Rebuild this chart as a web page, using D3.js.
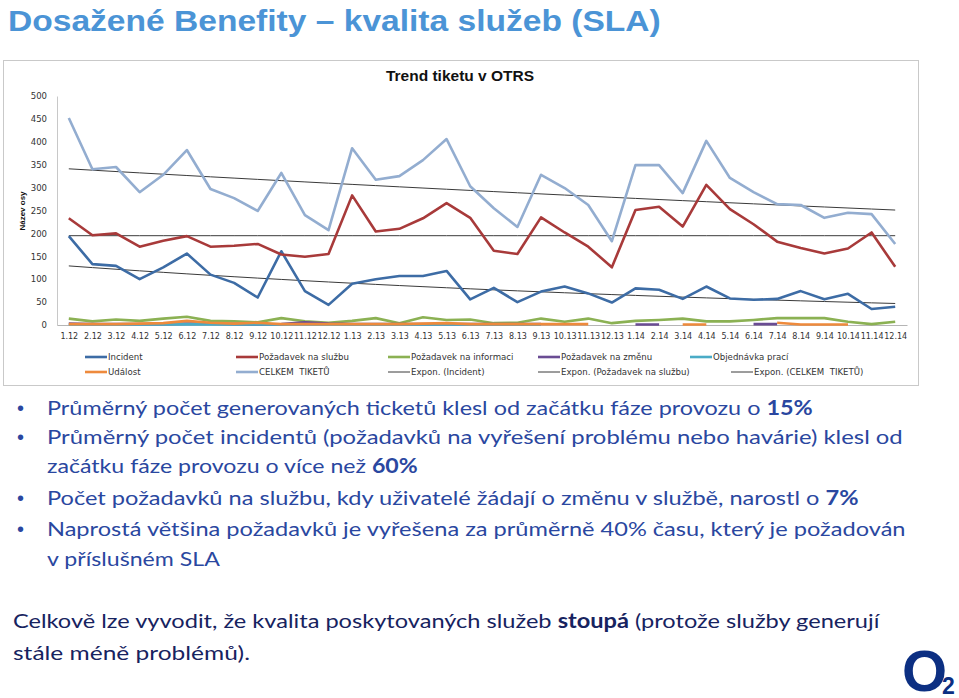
<!DOCTYPE html>
<html>
<head>
<meta charset="utf-8">
<script src="https://cdn.jsdelivr.net/npm/d3@7"></script>
<style>
  body { margin: 0; background: #fff; }
  svg { display: block; }
</style>
</head>
<body>
<svg id="slide" width="959" height="698"></svg>
<script>
// months on the category axis
var months = ["1.12", "2.12", "3.12", "4.12", "5.12", "6.12", "7.12", "8.12", "9.12", "10.12", "11.12", "12.12",
  "1.13", "2.13", "3.13", "4.13", "5.13", "6.13", "7.13", "8.13", "9.13", "10.13", "11.13", "12.13",
  "1.14", "2.14", "3.14", "4.14", "5.14", "6.14", "7.14", "8.14", "9.14", "10.14", "11.14", "12.14"];
var yTicks = [0, 50, 100, 150, 200, 250, 300, 350, 400, 450, 500];

// series
var incident = [194, 133, 129, 100, 126, 156, 110, 92, 60, 161, 74, 44,
  90, 100, 107, 107, 118, 56, 81, 50, 73, 84, 69, 49,
  80, 77, 57, 84, 58, 55, 57, 74, 56, 68, 35, 40];
var sluzba = [233, 196, 200, 171, 184, 194, 171, 173, 177, 154, 149, 155,
  283, 204, 210, 233, 266, 234, 162, 155, 235, 202, 171, 126,
  251, 258, 215, 306, 253, 220, 182, 168, 156, 167, 202, 127];
var informace = [14, 8, 12, 9, 14, 18, 9, 8, 6, 15, 8, 5,
  9, 15, 4, 17, 11, 12, 4, 5, 14, 7, 14, 4,
  9, 11, 14, 8, 8, 11, 15, 15, 15, 7, 2, 7];
var zmena = [3, 2, 2, 2, 2, 3, 3, 2, 1, 2, 6, 3,
  2, 2, 2, 2, 2, 2, 2, 2, 2, null, null, null,
  1, 1, null, null, null, 2, 2, null, null, null, null, null];
var objednavka = [1, 1, 1, 1, 1, 2, 1, 1, 1, 1, 1, 1,
  1, 1, 1, 1, 1, 1, 1, 1, 1, null, null, null,
  null, null, null, null, null, null, null, null, null, null, null, null];
var udalost = [2, 2, 2, 3, 4, 9, 5, 3, 5, 2, 2, 2,
  2, 2, 2, 3, 4, 2, 2, 2, 2, 2, 2, null,
  null, null, 1, 1, null, null, 5, 1, 1, 1, null, null];
var celkem = [452, 340, 345, 290, 328, 382, 297, 277, 249, 332, 240, 207,
  386, 317, 325, 360, 406, 303, 255, 214, 328, 299, 262, 183,
  349, 349, 288, 402, 321, 290, 264, 262, 234, 245, 242, 177];

// exponential trend lines: value at first and last month
var trendIncident = [129, 47];
var trendSluzba = [195, 195];
var trendCelkem = [341, 251];

var svg = d3.select("#slide");

var x = d3.scalePoint().domain(months).range([57, 907]).padding(0.5);
var y = d3.scaleLinear().domain([0, 500]).range([325, 96]);

// slide title
fitText(svg.append("text")
  .attr("font-family", "Liberation Sans, Arial, sans-serif")
  .attr("font-weight", "bold")
  .attr("font-size", 29)
  .attr("fill", "#4b94d6")
  .text("Dosažené Benefity – kvalita služeb (SLA)"), 8, 31, 653);

// chart frame
svg.append("rect")
  .attr("x", 3.5).attr("y", 60.5)
  .attr("width", 915).attr("height", 325)
  .attr("fill", "#fff")
  .attr("stroke", "#c9c9c9");

svg.append("text")
  .attr("x", 460).attr("y", 81)
  .attr("text-anchor", "middle")
  .attr("font-family", "Liberation Sans, Arial, sans-serif")
  .attr("font-weight", "bold")
  .attr("font-size", 15.5)
  .attr("fill", "#111")
  .text("Trend tiketu v OTRS");

svg.append("text")
  .attr("transform", "translate(25,211) rotate(-90)")
  .attr("text-anchor", "middle")
  .attr("font-family", "Liberation Sans, Arial, sans-serif")
  .attr("font-weight", "bold")
  .attr("font-size", 8)
  .attr("fill", "#111")
  .text("Název osy");

// axes
var yAxis = svg.append("g")
  .attr("transform", "translate(57,0)")
  .call(d3.axisLeft(y).tickValues(yTicks).tickSize(0).tickPadding(10));
yAxis.select(".domain").attr("stroke", "#c8c8c8");
yAxis.selectAll("text")
  .attr("font-family", "DejaVu Sans, sans-serif")
  .attr("font-size", 8.5)
  .attr("fill", "#333");

var xAxis = svg.append("g")
  .attr("transform", "translate(0,325)")
  .call(d3.axisBottom(x).tickSize(0).tickPadding(8));
xAxis.select(".domain").attr("stroke", "#b5b5b5");
xAxis.selectAll("text")
  .attr("font-family", "DejaVu Sans, sans-serif")
  .attr("font-size", 8)
  .attr("fill", "#333");

// trend lines
var trends = [trendIncident, trendSluzba, trendCelkem];
var last = months.length - 1;
var trendLine = d3.line()
  .x(function (d) { return x(d.m); })
  .y(function (d) { return y(d.v); });
trends.forEach(function (t) {
  var pts = months.map(function (m, i) {
    return { m: m, v: t[0] * Math.pow(t[1] / t[0], i / last) };
  });
  svg.append("path")
    .attr("d", trendLine(pts))
    .attr("fill", "none")
    .attr("stroke", "#3a3a3a")
    .attr("stroke-width", 1);
});

// data series, drawn bottom layer first
var series = [
  { name: "Incident", values: incident, color: "#3d6ca5" },
  { name: "Požadavek na službu", values: sluzba, color: "#a83a3a" },
  { name: "Požadavek na informaci", values: informace, color: "#8bb153" },
  { name: "Požadavek na změnu", values: zmena, color: "#6a4c93" },
  { name: "Objednávka prací", values: objednavka, color: "#4aabc6" },
  { name: "Událost", values: udalost, color: "#ee8a3c" },
  { name: "CELKEM  TIKETŮ", values: celkem, color: "#93add0" }
];

var line = d3.line()
  .defined(function (d) { return d != null; })
  .x(function (d, i) { return x(months[i]); })
  .y(function (d) { return y(d); });

series.forEach(function (s) {
  svg.append("path")
    .attr("d", line(s.values))
    .attr("fill", "none")
    .attr("stroke", s.color)
    .attr("stroke-width", 2.6)
    .attr("stroke-linejoin", "round");
});

// legend (two rows like in Excel)
var legendItems = [
  { label: "Incident", color: series[0].color, w: 2.6, x: 85, y: 357 },
  { label: "Požadavek na službu", color: series[1].color, w: 2.6, x: 236, y: 357 },
  { label: "Požadavek na informaci", color: series[2].color, w: 2.6, x: 388, y: 357 },
  { label: "Požadavek na změnu", color: series[3].color, w: 2.6, x: 538, y: 357 },
  { label: "Objednávka prací", color: series[4].color, w: 2.6, x: 690, y: 357 },
  { label: "Událost", color: series[5].color, w: 2.6, x: 85, y: 372 },
  { label: "CELKEM  TIKETŮ", color: series[6].color, w: 2.6, x: 236, y: 372 },
  { label: "Expon. (Incident)", color: "#3a3a3a", w: 1, x: 388, y: 372 },
  { label: "Expon. (Požadavek na službu)", color: "#3a3a3a", w: 1, x: 538, y: 372 },
  { label: "Expon. (CELKEM  TIKETŮ)", color: "#3a3a3a", w: 1, x: 731, y: 372 }
];
var legend = svg.append("g").selectAll("g")
  .data(legendItems).enter().append("g")
  .attr("transform", function (d) { return "translate(" + d.x + "," + d.y + ")"; });
legend.append("line")
  .attr("x1", 0).attr("x2", 22)
  .attr("stroke", function (d) { return d.color; })
  .attr("stroke-width", function (d) { return d.w; });
legend.append("text")
  .attr("x", 23).attr("dy", "0.35em")
  .attr("font-family", "DejaVu Sans, sans-serif")
  .attr("font-size", 8.6)
  .attr("fill", "#333")
  .style("white-space", "pre")
  .text(function (d) { return d.label; });

// bullet text
var bullets = [
  { parts: [["Průměrný počet generovaných ticketů klesl od začátku fáze provozu o ", 0], ["15%", 1]], y: 415, w: 766, dot: true },
  { parts: [["Průměrný počet incidentů (požadavků na vyřešení problému nebo havárie) klesl od", 0]], y: 444, w: 856, dot: true },
  { parts: [["začátku fáze provozu o více než ", 0], ["60%", 1]], y: 473, w: 371 },
  { parts: [["Počet požadavků na službu, kdy uživatelé žádají o změnu v službě, narostl o ", 0], ["7%", 1]], y: 505, w: 812, dot: true },
  { parts: [["Naprostá většina požadavků je vyřešena za průměrně 40% času, který je požadován", 0]], y: 536, w: 859, dot: true },
  { parts: [["v příslušném SLA", 0]], y: 566, w: 173 }
];
var para = [
  { parts: [["Celkově lze vyvodit, že kvalita poskytovaných služeb ", 0], ["stoupá", 1], [" (protože služby generují", 0]], y: 628, w: 867 },
  { parts: [["stále méně problémů).", 0]], y: 660, w: 237 }
];

function textLine(d, left, color) {
  var t = svg.append("text")
    .attr("font-family", "Lato, Carlito, sans-serif")
    .attr("font-size", 20)
    .attr("fill", color);
  d.parts.forEach(function (p) {
    t.append("tspan").attr("font-weight", p[1] ? "bold" : "normal").text(p[0]);
  });
  fitText(t, left, d.y, d.w);
  if (d.dot) {
    svg.append("text")
      .attr("x", 17).attr("y", d.y)
      .attr("font-family", "Liberation Sans, Arial, sans-serif")
      .attr("font-size", 20)
      .attr("fill", color)
      .text("•");
  }
}

function fitText(sel, left, base, width) {
  var w = sel.node().getComputedTextLength();
  sel.attr("transform", "translate(" + left + "," + base + ") scale(" + (width / w) + ",1)");
}

bullets.forEach(function (d) { textLine(d, 47, "#2a47a0"); });
para.forEach(function (d) { textLine(d, 13, "#17235f"); });

// O2 logo
svg.append("text")
  .attr("x", 902).attr("y", 691)
  .attr("font-family", "Liberation Sans, Arial, sans-serif")
  .attr("font-weight", "bold")
  .attr("font-size", 58)
  .attr("fill", "#0c2f82")
  .text("O");
svg.append("text")
  .attr("x", 942).attr("y", 694)
  .attr("font-family", "Liberation Sans, Arial, sans-serif")
  .attr("font-weight", "bold")
  .attr("font-size", 23)
  .attr("fill", "#0c2f82")
  .text("2");
</script>
</body>
</html>
